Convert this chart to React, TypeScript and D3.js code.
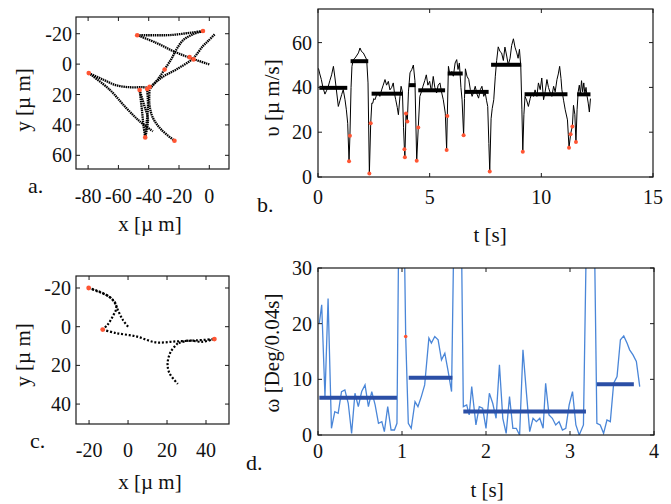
import React from 'react'
import * as d3 from 'd3'

const FONT = '"Liberation Serif", "Times New Roman", serif'

// ---- panel a: trajectory pieces, x/y in µm ----
const trackA1: [number, number][] = [[0, 0.2], [-13, -4.2], [-24, -8.6], [-35, -14], [-47.6, -19]]
const trackA2: [number, number][] = [[-47.6, -19], [-35, -19], [-26, -19.1], [-15, -20.3], [-4.2, -21.8]]
const trackA3: [number, number][] = [[-4.2, -21.8], [-11, -19.5], [-17, -16], [-21.5, -10], [-25, -3.5], [-29.5, 3.5], [-34, 10], [-39, 16]]
const trackA4: [number, number][] = [[3.5, -19.6], [-0.5, -15.5], [-4.2, -11.9], [-10.8, -3.7], [-21.8, 3.5], [-31.7, 9], [-39.5, 15.6]]
const trackA5: [number, number][] = [[-79.6, 5.9], [-70.3, 10.1], [-61.5, 13.9], [-52.7, 15.2], [-43.8, 15.2], [-39.4, 15.6]]
const trackA6: [number, number][] = [[-79.6, 5.9], [-65.9, 16.7], [-54.9, 28.8], [-46, 37.6], [-37.2, 44.2]]
const trackA7: [number, number][] = [[-39.4, 15.6], [-39.5, 26.6], [-37.2, 35.4], [-31.7, 43.1], [-23, 50.4]]
const trackA8: [number, number][] = [[-46, 17], [-44.5, 30], [-43.5, 40], [-42.3, 48.2]]
const trackA9: [number, number][] = [[-41, 16.3], [-40.5, 28], [-41.5, 40], [-42.3, 48.2]]
const trackA10: [number, number][] = [[-46, 17], [-43, 27], [-40.5, 36], [-42.3, 48.2]]
const tracksA = [trackA1, trackA2, trackA3, trackA4, trackA5, trackA6, trackA7, trackA8, trackA9, trackA10]
const tumblesA: [number, number][] = [[-47.6, -19], [-4.2, -21.8], [-13, -4.6], [-10.4, -3.1], [-29.5, 3.5], [-79.6, 5.9], [-46, 17], [-41, 16.3], [-39.4, 15], [-42.3, 48.2], [-23, 50.4]]
const ticksAX = [-80, -60, -40, -20, 0]
const ticksAY = [-20, 0, 20, 40, 60]

// ---- panel b: speed, t [s] / v [µm/s] ----
const speedB: [number, number][] = [
  [0.02, 48.5], [0.08, 46], [0.15, 43.5], [0.22, 40], [0.31, 37], [0.38, 38.5], [0.46, 40.5], [0.53, 43],
  [0.61, 45.6], [0.69, 49.4], [0.76, 44.2], [0.84, 37.5], [0.91, 31.5], [0.98, 34], [1.06, 36.8], [1.13, 39],
  [1.21, 34.5], [1.27, 30], [1.33, 24], [1.39, 7], [1.43, 18.4], [1.48, 40], [1.52, 49.4], [1.58, 52.4],
  [1.65, 53], [1.72, 54], [1.81, 55.4], [1.88, 57.6], [1.95, 56], [2.03, 55.4], [2.1, 54], [2.18, 52.4],
  [2.24, 42], [2.3, 1.6], [2.36, 24], [2.41, 33], [2.45, 32.9], [2.5, 35], [2.55, 34.5], [2.62, 36.5],
  [2.7, 37.5], [2.77, 36], [2.85, 38.9], [2.92, 41], [3.0, 43.5], [3.07, 41], [3.15, 42.7], [3.22, 38.9],
  [3.3, 40], [3.37, 42], [3.43, 37], [3.48, 34.5], [3.55, 31], [3.6, 27.8], [3.67, 36], [3.72, 40.5],
  [3.78, 38], [3.83, 22], [3.87, 12.4], [3.89, 8.8], [3.94, 28.3], [4.0, 24.8], [4.05, 38], [4.12, 46.5],
  [4.2, 48], [4.27, 50], [4.34, 43], [4.38, 25], [4.42, 7.2], [4.49, 22.1], [4.56, 36], [4.63, 38],
  [4.7, 40.5], [4.78, 43], [4.85, 45.6], [4.92, 41], [5.0, 42.7], [5.08, 38], [5.16, 44.9], [5.23, 40],
  [5.31, 37.5], [5.38, 41], [5.46, 42], [5.53, 38], [5.61, 34.5], [5.7, 28.5], [5.76, 12.1], [5.79, 27.2],
  [5.84, 49.4], [5.9, 46], [5.99, 47.1], [6.06, 45], [6.14, 50.9], [6.21, 52.4], [6.27, 48], [6.33, 50.9],
  [6.4, 40], [6.45, 34.5], [6.52, 18.6], [6.56, 35], [6.6, 48.3], [6.67, 45], [6.75, 43.5], [6.82, 39],
  [6.9, 36], [6.97, 38], [7.04, 40.5], [7.12, 37], [7.19, 35.2], [7.27, 39], [7.34, 40.5], [7.42, 36],
  [7.49, 37.5], [7.55, 34], [7.6, 31.5], [7.65, 15], [7.69, 2.5], [7.75, 26], [7.8, 30.5], [7.87, 34.5],
  [7.94, 45], [8.0, 52], [8.07, 58.1], [8.15, 56], [8.22, 55.4], [8.3, 52], [8.37, 58], [8.45, 54],
  [8.52, 50], [8.6, 53], [8.67, 58.7], [8.75, 61.7], [8.82, 58], [8.9, 55.4], [8.96, 53], [9.02, 57],
  [9.08, 49.4], [9.13, 30], [9.17, 11.3], [9.22, 28], [9.27, 36], [9.35, 34], [9.42, 31.5], [9.5, 35],
  [9.57, 37.5], [9.65, 36], [9.72, 38.9], [9.8, 36], [9.87, 42], [9.95, 39], [10.02, 44.2], [10.1, 34.5],
  [10.17, 38], [10.25, 43.5], [10.32, 40], [10.4, 37.5], [10.47, 36], [10.55, 40.5], [10.62, 38], [10.7, 43.5],
  [10.76, 46], [10.82, 49.4], [10.88, 44], [10.92, 38.9], [11.0, 34], [11.07, 30], [11.17, 25.5], [11.24, 13.1],
  [11.31, 19.1], [11.35, 21], [11.39, 22.6], [11.44, 32], [11.5, 28], [11.55, 15.6], [11.6, 30], [11.65, 38],
  [11.7, 41], [11.75, 37], [11.8, 43], [11.85, 38], [11.9, 42], [11.95, 37], [12.0, 40], [12.05, 36],
  [12.1, 33], [12.15, 29], [12.2, 35],
]
const meanB: [number, number, number][] = [
  [0.06, 1.31, 39.8], [1.46, 2.25, 51.7], [2.4, 3.79, 37.2], [4.07, 4.37, 41], [4.49, 5.69, 38.7],
  [5.81, 6.48, 46.2], [6.57, 7.64, 38], [7.75, 9.1, 50.1], [9.25, 11.17, 36.9], [11.6, 12.2, 36.9],
]
const tumblesB: [number, number][] = [
  [1.39, 7], [1.43, 18.4], [2.3, 1.6], [2.36, 24], [3.87, 12.4], [3.89, 8.8], [3.94, 28.3], [4.0, 24.8],
  [4.42, 7.2], [4.49, 22.1], [5.76, 12.1], [5.79, 27.2], [6.52, 18.6], [7.69, 2.5], [9.17, 11.3],
  [11.24, 13.1], [11.31, 19.1], [11.39, 22.6], [11.55, 15.6],
]
const ticksBX = [0, 5, 10, 15]
const ticksBY = [0, 20, 40, 60]

// ---- panel c: trajectory pieces ----
const trackC1: [number, number][] = [[0, 0], [-2.7, -3.6], [-5.3, -8.8], [-7, -13], [-11.3, -16.5], [-16.4, -18.8], [-20.2, -20]]
const trackC2: [number, number][] = [[-20.2, -20], [-15, -18], [-9, -15], [-6, -10], [-7.9, -5.3], [-10.5, -1], [-13, 1.5]]
const trackC3: [number, number][] = [[-13, 1.5], [-6.2, 3.3], [4.1, 5], [14.4, 8.1], [24.6, 7.6], [34.9, 7.1], [44.3, 6.4]]
const trackC4: [number, number][] = [[44.3, 6.4], [38, 7.8], [31, 7.2], [25.5, 8.6]]
const trackC5: [number, number][] = [[25.5, 8.6], [22, 12.8], [20.3, 18.8], [21.2, 23.9], [25.5, 29.6]]
const tracksC = [trackC1, trackC2, trackC3, trackC4, trackC5]
const tumblesC: [number, number][] = [[-20.2, -20], [-13, 1.5], [44.3, 6.4]]
const ticksCX = [-20, 0, 20, 40]
const ticksCY = [-20, 0, 20, 40]

// ---- panel d: angular speed, t [s] / ω [Deg/0.04s] ----
const omegaD: [number, number][] = [
  [0.016, 20.1], [0.044, 23.4], [0.083, 6.9], [0.12, 24.5], [0.16, 1.2], [0.2, 4.2], [0.24, 3.9], [0.28, 7.8],
  [0.32, 8.1], [0.36, 5.7], [0.4, 0.3], [0.44, 7.5], [0.48, 5.1], [0.52, 7.8], [0.56, 9], [0.6, 5.1],
  [0.64, 7.8], [0.68, 5.4], [0.72, 2.1], [0.76, 2.4], [0.79, 0.6], [0.83, 5.1], [0.87, 0.9], [0.91, 0.9],
  [0.94, 2.1], [0.975, 60], [1.005, 60], [1.044, 17.7], [1.075, 2.1], [1.11, 1.2], [1.155, 6], [1.19, 5.1],
  [1.23, 6.9], [1.27, 9], [1.32, 17.4], [1.35, 16.5], [1.39, 17.7], [1.43, 17.1], [1.47, 13.5], [1.51, 14.7],
  [1.55, 11.4], [1.59, 7.8], [1.64, 60], [1.69, 60], [1.73, 5.1], [1.77, 5.4], [1.8, 3.6], [1.83, 8.7],
  [1.88, 1.8], [1.92, 5.1], [1.96, 4.8], [2.0, 1.2], [2.04, 7.5], [2.08, 5.7], [2.12, 3], [2.16, 12.6],
  [2.2, 3], [2.24, 0.3], [2.28, 6.9], [2.32, 1.2], [2.36, 1.2], [2.4, 0], [2.44, 15.3], [2.48, 7.8],
  [2.52, 0.6], [2.56, 3], [2.6, 2.4], [2.64, 3], [2.68, 1.2], [2.71, 9.3], [2.75, 3.6], [2.79, 3],
  [2.83, 1.8], [2.87, 2.4], [2.91, 0.9], [2.95, 1.2], [2.99, 5.4], [3.03, 7.8], [3.07, 1.8], [3.11, 0],
  [3.16, 1.8], [3.22, 60], [3.27, 60], [3.32, 2.1], [3.36, 1.8], [3.4, 0.3], [3.44, 2.7], [3.48, 2.4],
  [3.52, 9.3], [3.56, 10.5], [3.6, 17.1], [3.64, 17.8], [3.68, 16.5], [3.71, 15.3], [3.75, 14.4], [3.79, 13.2],
  [3.83, 8.7],
]
const meanD: [number, number, number][] = [[0.016, 0.94, 6.7], [1.08, 1.6, 10.3], [1.73, 3.19, 4.2], [3.32, 3.76, 9.1]]
const tumblesD: [number, number][] = [[1.044, 17.7]]
const ticksDX = [0, 1, 2, 3, 4]
const ticksDY = [0, 10, 20, 30]

const RED = '#ff5533'
const INK = '#1a1a1a'

type Scale = d3.ScaleLinear<number, number>

function Frame({ x, y, xTicks, yTicks, xBase, yRight }: {
  x: Scale; y: Scale; xTicks: number[]; yTicks: number[]; xBase: number; yRight: number
}) {
  const [left, right] = x.range()
  const top = Math.min(...y.range())
  const bottom = Math.max(...y.range())
  const tl = 4
  return (
    <g fontSize={20} fill="#111">
      {xTicks.map(t => (
        <g key={'x' + t}>
          <line x1={x(t)} x2={x(t)} y1={bottom} y2={bottom - tl} stroke={INK} />
          <line x1={x(t)} x2={x(t)} y1={top} y2={top + tl} stroke={INK} />
          <text x={x(t)} y={xBase} textAnchor="middle">{t}</text>
        </g>
      ))}
      {yTicks.map(t => (
        <g key={'y' + t}>
          <line x1={left} x2={left + tl} y1={y(t)} y2={y(t)} stroke={INK} />
          <line x1={right} x2={right - tl} y1={y(t)} y2={y(t)} stroke={INK} />
          <text x={yRight} y={y(t)} dy="0.35em" textAnchor="end">{t}</text>
        </g>
      ))}
      <rect x={left} y={top} width={right - left} height={bottom - top} fill="none" stroke={INK} strokeWidth={1.2} />
    </g>
  )
}

function AxisLabels({ xLabel, xLabelPos, yLabel, yLabelPos, letter, letterPos }: {
  xLabel: string; xLabelPos: [number, number]; yLabel: string; yLabelPos: [number, number]
  letter: string; letterPos: [number, number]
}) {
  return (
    <g fontSize={21} fill="#111">
      <text x={xLabelPos[0]} y={xLabelPos[1]} textAnchor="middle">{xLabel}</text>
      <text transform={`translate(${yLabelPos[0]},${yLabelPos[1]}) rotate(-90)`} textAnchor="middle">{yLabel}</text>
      <text x={letterPos[0]} y={letterPos[1]} fontSize={22}>{letter}</text>
    </g>
  )
}

export default function App() {
  // panel a
  const xa = d3.scaleLinear().domain([-88, 13]).range([76, 229])
  const ya = d3.scaleLinear().domain([-31, 69]).range([17, 169])
  const trackLineA = d3.line<[number, number]>().x(d => xa(d[0])).y(d => ya(d[1])).curve(d3.curveCatmullRom.alpha(0.5))

  // panel b
  const xb = d3.scaleLinear().domain([0, 15]).range([318, 653])
  const yb = d3.scaleLinear().domain([0, 75]).range([177, 9])
  const speedLine = d3.line<[number, number]>().x(d => xb(d[0])).y(d => yb(d[1]))

  // panel c
  const xc = d3.scaleLinear().domain([-26.7, 51.8]).range([76, 229])
  const yc = d3.scaleLinear().domain([-26.2, 50.3]).range([276, 424])
  const trackLineC = d3.line<[number, number]>().x(d => xc(d[0])).y(d => yc(d[1])).curve(d3.curveCatmullRom.alpha(0.5))

  // panel d
  const xd = d3.scaleLinear().domain([0, 4]).range([318, 654])
  const yd = d3.scaleLinear().domain([0, 30]).range([435, 268])
  const omegaLine = d3.line<[number, number]>().x(d => xd(d[0])).y(d => yd(d[1]))

  return (
    <div style={{ position: 'absolute', left: 0, top: 0 }}>
      <svg width={671} height={504} fontFamily={FONT} style={{ display: 'block', background: '#fff' }}>
        <defs>
          <clipPath id="clipD">
            <rect x={318} y={268} width={336} height={167} />
          </clipPath>
        </defs>

        {/* a */}
        <g>
          {tracksA.map((tr, i) => (
            <path key={i} d={trackLineA(tr) || ''} fill="none" stroke="#000" strokeWidth={2.3} strokeDasharray="1.5 0.7" />
          ))}
          {tumblesA.map((d, i) => <circle key={i} cx={xa(d[0])} cy={ya(d[1])} r={2.3} fill={RED} />)}
          <Frame x={xa} y={ya} xTicks={ticksAX} yTicks={ticksAY} xBase={203} yRight={72} />
          <AxisLabels xLabel="x [µ m]" xLabelPos={[150, 231]} yLabel="y [µ m]" yLabelPos={[30, 100]}
            letter="a." letterPos={[28, 193]} />
        </g>

        {/* b */}
        <g>
          <path d={speedLine(speedB) || ''} fill="none" stroke="#000" strokeWidth={1} />
          {meanB.map((m, i) => (
            <line key={i} x1={xb(m[0])} x2={xb(m[1])} y1={yb(m[2])} y2={yb(m[2])} stroke="#000" strokeWidth={4} />
          ))}
          {tumblesB.map((d, i) => <circle key={i} cx={xb(d[0])} cy={yb(d[1])} r={2} fill={RED} />)}
          <Frame x={xb} y={yb} xTicks={ticksBX} yTicks={ticksBY} xBase={204} yRight={312} />
          <AxisLabels xLabel="t [s]" xLabelPos={[490, 242]} yLabel="υ [µ m/s]" yLabelPos={[279, 98]}
            letter="b." letterPos={[257, 212]} />
        </g>

        {/* c */}
        <g>
          {tracksC.map((tr, i) => (
            <path key={i} d={trackLineC(tr) || ''} fill="none" stroke="#000" strokeWidth={2.2} strokeDasharray="2 1.8" />
          ))}
          {tumblesC.map((d, i) => <circle key={i} cx={xc(d[0])} cy={yc(d[1])} r={2.4} fill={RED} />)}
          <Frame x={xc} y={yc} xTicks={ticksCX} yTicks={ticksCY} xBase={457} yRight={71} />
          <AxisLabels xLabel="x [µ m]" xLabelPos={[150, 489]} yLabel="y [µ m]" yLabelPos={[30, 355]}
            letter="c." letterPos={[30, 448]} />
        </g>

        {/* d */}
        <g>
          <g clipPath="url(#clipD)">
            <path d={omegaLine(omegaD) || ''} fill="none" stroke="#4a86d8" strokeWidth={1.3} />
          </g>
          {meanD.map((m, i) => (
            <line key={i} x1={xd(m[0])} x2={xd(m[1])} y1={yd(m[2])} y2={yd(m[2])} stroke="#2b4fa6" strokeWidth={4} />
          ))}
          {tumblesD.map((d, i) => <circle key={i} cx={xd(d[0])} cy={yd(d[1])} r={1.8} fill={RED} />)}
          <Frame x={xd} y={yd} xTicks={ticksDX} yTicks={ticksDY} xBase={458} yRight={312} />
          <AxisLabels xLabel="t [s]" xLabelPos={[487, 497]} yLabel="ω [Deg/0.04s]" yLabelPos={[279, 353]}
            letter="d." letterPos={[246, 470]} />
        </g>
      </svg>
    </div>
  )
}
